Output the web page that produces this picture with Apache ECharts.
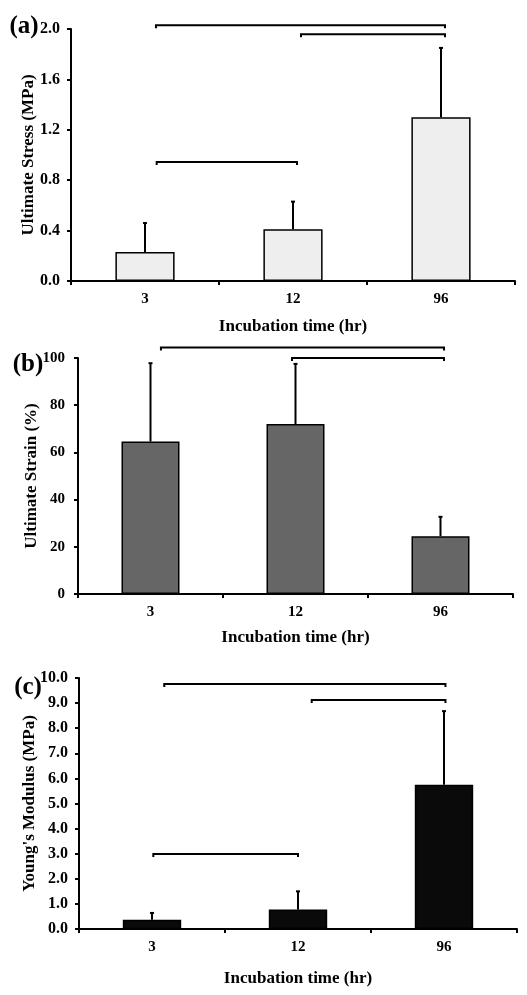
<!DOCTYPE html>
<html><head><meta charset="utf-8">
<script src="https://cdn.jsdelivr.net/npm/echarts@6/dist/echarts.min.js"></script>
<style>html,body{margin:0;padding:0;background:#fff}#c{width:527px;height:995px}</style>
</head><body><div id="c"></div>
<script>
var categories = ['3', '12', '96'];
var stressMean = [0.23, 0.41, 1.30];
var stressErr = [0.23, 0.22, 0.55];
var strainMean = [64.6, 72.0, 24.5];
var strainErr = [33.2, 25.5, 8.2];
var modulusMean = [0.37, 0.78, 5.75];
var modulusErr = [0.27, 0.72, 2.93];
// brackets: [start index, end index, level]
var stressBrackets = [[0.074, 2.027, 2.03], [1.054, 2.027, 1.958], [0.079, 1.027, 0.944]];
var strainBrackets = [[0.072, 2.024, 104.5], [0.976, 2.024, 100.0]];
var modulusBrackets = [[0.084, 2.01, 9.76], [1.094, 2.01, 9.12], [0.009, 1.0, 2.99]];
var stressTicks = {min: 0, max: 2.0, interval: 0.4, digits: 1};
var strainTicks = {min: 0, max: 100, interval: 20, digits: 0};
var modulusTicks = {min: 0, max: 10, interval: 1, digits: 1};
var yNames = ['Ultimate Stress (MPa)', 'Ultimate Strain (%)', "Young's Modulus (MPa)"];
var xName = 'Incubation time (hr)';
var panelLabels = ['(a)', '(b)', '(c)'];

var FONT = 'Liberation Serif';
var grids = [
  {left: 71, top: 29, width: 444, height: 252},
  {left: 78, top: 358, width: 435, height: 236},
  {left: 79, top: 678, width: 438, height: 251}
];
var fills = ['#eeeeee', '#666666', '#0a0a0a'];
var means = [stressMean, strainMean, modulusMean];
var errs = [stressErr, strainErr, modulusErr];
var brackets = [stressBrackets, strainBrackets, modulusBrackets];
var ticks = [stressTicks, strainTicks, modulusTicks];
var yNameGaps = [34, 38, 41];
var yLabelSizes = [16, 15, 16];
var yLabelMargins = [11, 13, 11];
var xNameGaps = [37, 35, 41];
var labelPos = [[24, 27], [28, 365], [28, 688]];

var option = {animation: false, grid: [], xAxis: [], yAxis: [], series: [], graphic: []};
for (var i = 0; i < 3; i++) {
  option.grid.push(grids[i]);
  option.xAxis.push({
    type: 'category', gridIndex: i, data: categories,
    name: xName, nameLocation: 'middle', nameGap: xNameGaps[i], nameMoveOverlap: false,
    nameTextStyle: {fontFamily: FONT, fontWeight: 'bold', fontSize: 17, color: '#000'},
    axisLine: {onZero: false, lineStyle: {color: '#000', width: 2}},
    axisTick: {show: true, length: 4, lineStyle: {color: '#000', width: 2}},
    axisLabel: {fontFamily: FONT, fontWeight: 'bold', fontSize: 15, color: '#000', margin: 11},
    splitLine: {show: false}
  });
  option.xAxis.push({type: 'value', gridIndex: i, min: -0.5, max: 2.5, show: false});
  (function (t) {
    option.yAxis.push({
      type: 'value', gridIndex: i, min: t.min, max: t.max, interval: t.interval,
      name: yNames[i], nameLocation: 'middle', nameGap: yNameGaps[i], nameMoveOverlap: false,
      nameTextStyle: {fontFamily: FONT, fontWeight: 'bold', fontSize: 17, color: '#000'},
      axisLine: {show: true, onZero: false, lineStyle: {color: '#000', width: 2}},
      axisTick: {show: true, length: 4, lineStyle: {color: '#000', width: 2}},
      axisLabel: {fontFamily: FONT, fontWeight: 'bold', fontSize: yLabelSizes[i], color: '#000',
        margin: yLabelMargins[i],
        formatter: function (v) { return v.toFixed(t.digits); }},
      splitLine: {show: false}
    });
  })(ticks[i]);
  option.series.push({
    type: 'bar', xAxisIndex: 2 * i, yAxisIndex: i, data: means[i], barWidth: '40%',
    itemStyle: {color: fills[i], borderColor: '#000', borderWidth: 1.5}, z: 2
  });
  var ed = [];
  for (var k = 0; k < 3; k++) ed.push([k, means[i][k], means[i][k] + errs[i][k]]);
  option.series.push({
    type: 'custom', xAxisIndex: 2 * i + 1, yAxisIndex: i, data: ed, z: 3, clip: false,
    renderItem: function (params, api) {
      var p0 = api.coord([api.value(0), api.value(1)]);
      var p1 = api.coord([api.value(0), api.value(2)]);
      var st = {stroke: '#000', lineWidth: 2};
      return {type: 'group', children: [
        {type: 'line', shape: {x1: p0[0], y1: p0[1], x2: p1[0], y2: p1[1]}, style: st},
        {type: 'line', shape: {x1: p1[0] - 2, y1: p1[1], x2: p1[0] + 2, y2: p1[1]}, style: st}
      ]};
    }
  });
  option.series.push({
    type: 'custom', xAxisIndex: 2 * i + 1, yAxisIndex: i, data: brackets[i], z: 3, clip: false,
    renderItem: function (params, api) {
      var a = api.coord([api.value(0), api.value(2)]);
      var b = api.coord([api.value(1), api.value(2)]);
      return {type: 'polyline', shape: {points: [[a[0], a[1] + 3], a, b, [b[0], b[1] + 3]]},
        style: {stroke: '#000', lineWidth: 2, fill: null}};
    }
  });
  option.graphic.push({
    type: 'text', x: labelPos[i][0], y: labelPos[i][1],
    style: {text: panelLabels[i], font: 'bold 25px "Liberation Serif"', fill: '#000',
      textAlign: 'center', textVerticalAlign: 'middle'}
  });
}
var chart = echarts.init(document.getElementById('c'));
chart.setOption(option);
</script></body></html>
